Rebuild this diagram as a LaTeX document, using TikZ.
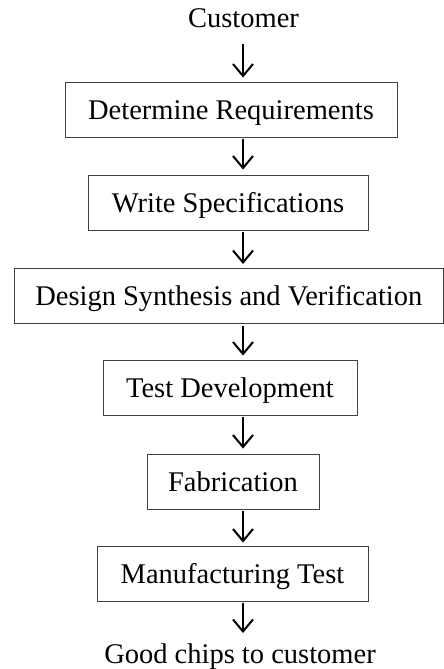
\documentclass[tikz,border=0pt]{standalone}
\usepackage{fontspec}
\setmainfont{Liberation Serif}
\usetikzlibrary{arrows.meta}
\begin{document}
\begin{tikzpicture}[x=1pt,y=-1pt,
  stepbox/.style={draw=black!75,line width=0.9pt,minimum height=55pt,inner sep=0pt,text height=20pt,text depth=1pt,font=\fontsize{28.5}{34}\selectfont},
  lbl/.style={inner sep=0pt,anchor=base,font=\fontsize{28.5}{34}\selectfont},
  arr/.style={line width=2pt,-{Straight Barb[length=12pt,width=20pt,line width=2pt]}}]
\useasboundingbox (0,0) rectangle (444,669);
\coordinate (ax) at (243,0);
\node[lbl] (cust) at (243.5,27.5) {Customer};
\node[stepbox,minimum width=332pt] (b1) at (231,109.5) {Determine Requirements};
\node[stepbox,minimum width=280pt] (b2) at (228,202.5) {Write Specifications};
\node[stepbox,minimum width=429pt] (b3) at (228.8,296) {Design Synthesis and Verification};
\node[stepbox,minimum width=254pt] (b4) at (230,387.5) {Test Development};
\node[stepbox,minimum width=172pt] (b5) at (233,481.5) {Fabrication};
\node[stepbox,minimum width=271pt] (b6) at (232.5,573.5) {Manufacturing Test};
\node[lbl] (good) at (240,663) {Good chips to customer};
\draw[arr] ([yshift=-17pt]cust.base -| ax) -- ([yshift=4pt]b1.north -| ax);
\draw[arr] ([yshift=-2pt]b1.south -| ax) -- ([yshift=5pt]b2.north -| ax);
\draw[arr] ([yshift=-2pt]b2.south -| ax) -- ([yshift=4pt]b3.north -| ax);
\draw[arr] ([yshift=-2pt]b3.south -| ax) -- ([yshift=4pt]b4.north -| ax);
\draw[arr] ([yshift=-2pt]b4.south -| ax) -- ([yshift=5pt]b5.north -| ax);
\draw[arr] ([yshift=-2pt]b5.south -| ax) -- ([yshift=3pt]b6.north -| ax);
\draw[arr] ([yshift=-2pt]b6.south -| ax) -- ([yshift=30pt]good.base -| ax);
\end{tikzpicture}
\end{document}
